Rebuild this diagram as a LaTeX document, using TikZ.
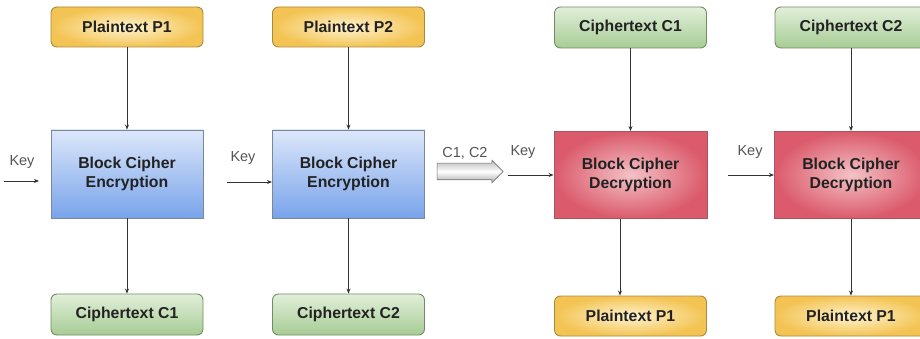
\documentclass[tikz,border=0pt]{standalone}
\usepackage{fontspec}
\setmainfont{Liberation Sans}
\usetikzlibrary{shapes.arrows,arrows.meta}
\definecolor{txt}{HTML}{222222}
\definecolor{keygray}{HTML}{555555}
\definecolor{ylo}{HTML}{F3C454}
\definecolor{yli}{HTML}{FFF3CF}
\definecolor{ybd}{HTML}{A88A3A}
\definecolor{gtop}{HTML}{E2EFDA}
\definecolor{gbot}{HTML}{A6CC94}
\definecolor{gbd}{HTML}{6F8C62}
\definecolor{btop}{HTML}{DCE7FA}
\definecolor{bbot}{HTML}{78A3EA}
\definecolor{bbd}{HTML}{7A879B}
\definecolor{rin}{HTML}{F3C2C6}
\definecolor{rout}{HTML}{DB5A6B}
\definecolor{rbd}{HTML}{A65562}
\definecolor{linec}{HTML}{333333}
\tikzset{
  x=1pt,y=-1pt,
  lbl/.style={font=\fontsize{15.8}{19}\selectfont\bfseries, text=txt, align=center},
  plainbox/.style={lbl, rounded corners=6pt, minimum width=152pt, minimum height=40pt, inner sep=0pt, draw=ybd, line width=0.9pt, inner color=yli, outer color=ylo},
  cipherbox/.style={lbl, rounded corners=6pt, minimum width=152pt, minimum height=41pt, inner sep=0pt, draw=gbd, line width=0.9pt, top color=gtop, bottom color=gbot},
  encbox/.style={lbl, minimum width=152pt, minimum height=88pt, inner sep=0pt, draw=bbd, line width=0.9pt, top color=btop, bottom color=bbot},
  decbox/.style={lbl, minimum width=153pt, minimum height=87pt, inner sep=0pt, draw=rbd, line width=0.9pt, inner color=rin, outer color=rout},
  keylbl/.style={font=\fontsize{14.5}{16}\selectfont, text=keygray, inner sep=0pt},
  conn/.style={draw=linec, line width=0.8pt, -{Stealth[length=5pt,width=4pt]}},
}
\begin{document}
\begin{tikzpicture}
\useasboundingbox (0,0) rectangle (920,339);
\clip (0,0) rectangle (920,339);

% column 1
\node[plainbox] (p1) at (127,27) {Plaintext P1};
\node[encbox] (e1) at (127,174) {Block Cipher\\Encryption};
\node[cipherbox] (c1) at (127,314.5) {Ciphertext C1};
% column 2
\node[plainbox] (p2) at (348.5,27) {Plaintext P2};
\node[encbox] (e2) at (348.5,174) {Block Cipher\\Encryption};
\node[cipherbox] (c2) at (348.5,314.5) {Ciphertext C2};
% column 3
\node[cipherbox] (cc1) at (630.5,27.5) {Ciphertext C1};
\node[decbox] (d1) at (630.5,175) {Block Cipher\\Decryption};
\node[plainbox] (pp1) at (630.5,316) {Plaintext P1};
% column 4
\node[cipherbox] (cc2) at (851,27.5) {Ciphertext C2};
\node[decbox] (d2) at (851,175) {Block Cipher\\Decryption};
\node[plainbox] (pp2) at (851,316) {Plaintext P1};

% vertical connectors
\draw[conn] (p1) -- (e1);
\draw[conn] (e1) -- (c1);
\draw[conn] (p2) -- (e2);
\draw[conn] (e2) -- (c2);
\draw[conn] (cc1) -- (d1);
\draw[conn] ([xshift=-10.5pt]d1.south) -- ([xshift=-10.5pt]pp1.north);
\draw[conn] (cc2) -- (d2);
\draw[conn] (d2) -- (pp2);

% keys
\node[keylbl] (k1) at (22,162) {Key};
\node[keylbl] (k2) at (243,158) {Key};
\node[keylbl] (k3) at (523,152) {Key};
\node[keylbl] (k4) at (750,152) {Key};
\coordinate (k1s) at (4,181);
\coordinate (k1e) at (39,181);
\coordinate (k2s) at (227,182);
\coordinate (k3s) at (508,175);
\coordinate (k4s) at (728,175);
\draw[conn] (k1s) -- (k1e);
\draw[conn] (k2s) -- (k2s -| e2.west);
\draw[conn] (k3s) -- (k3s -| d1.west);
\draw[conn] (k4s) -- (k4s -| d2.west);

% transfer arrow
\node[single arrow, draw=gray!90!black, line width=0.6pt, minimum height=66pt,
      single arrow head extend=3pt, inner sep=8pt, shape border rotate=0,
      top color=gray!55, bottom color=gray!65, middle color=white] (ta) at (466,171.5) {};
\node[keylbl] (tl) at (465,153) {C1, C2};
\end{tikzpicture}
\end{document}
